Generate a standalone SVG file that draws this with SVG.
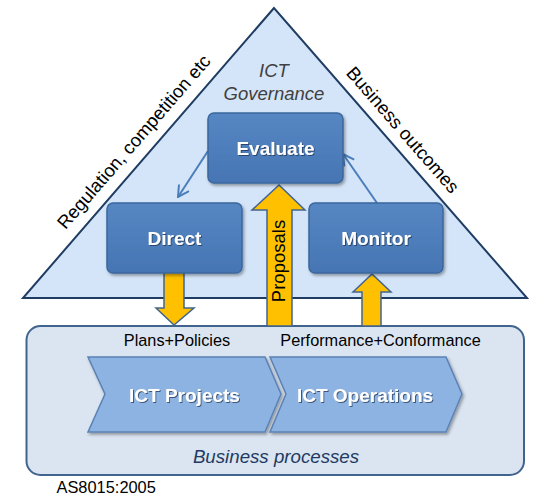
<svg xmlns="http://www.w3.org/2000/svg" width="550" height="504" viewBox="0 0 550 504">
<defs>
<style>
.t{font-family:"Liberation Sans",Arial,sans-serif;}
.box{fill:url(#bg);stroke:#3b679d;stroke-width:1.5;}
.bt{font-family:"Liberation Sans",Arial,sans-serif;font-weight:bold;font-size:19px;fill:#fff;text-anchor:middle;}
.chev{fill:#8db3e2;stroke:#5b82b5;stroke-width:1.5;}
.ya{fill:#ffc000;stroke:#41648f;stroke-width:1.5;stroke-linejoin:miter;}
.bl{stroke:#4a7ebb;stroke-width:2;fill:none;}
.lbl{font-family:"Liberation Sans",Arial,sans-serif;font-size:16.3px;fill:#000;text-anchor:middle;}
</style>
<linearGradient id="bg" x1="0" y1="0" x2="0" y2="1">
<stop offset="0" stop-color="#5687c3"/>
<stop offset="1" stop-color="#4675b3"/>
</linearGradient>
<filter id="sh" x="-10%" y="-10%" width="130%" height="140%">
<feDropShadow dx="1.5" dy="2" stdDeviation="1.5" flood-color="#000" flood-opacity="0.35"/>
</filter>
<filter id="ts" x="-5%" y="-20%" width="110%" height="150%">
<feDropShadow dx="1" dy="1" stdDeviation="0.6" flood-color="#1a2f4d" flood-opacity="0.7"/>
</filter>
<marker id="ah" viewBox="0 0 14 14" refX="12.5" refY="7" markerWidth="14" markerHeight="14" markerUnits="userSpaceOnUse" orient="auto">
<path d="M1.5,1 L12.5,7 L1.5,13" fill="none" stroke="#4a7ebb" stroke-width="2"/>
</marker>
</defs>
<rect width="550" height="504" fill="#fff"/>

<g id="governance">
<polygon points="274,8 23,298 527,298" fill="#d5e5f9" stroke="#1f3d63" stroke-width="2" stroke-linejoin="miter"/>
<text class="t" font-size="18.5" font-style="italic" fill="#404040" text-anchor="middle"><tspan x="274" y="77">ICT</tspan><tspan x="274" y="100">Governance</tspan></text>
<text class="t" font-size="18.5" fill="#000" text-anchor="middle" transform="translate(138.5,146) rotate(-49.1)">Regulation, competition etc</text>
<text class="t" font-size="18.5" fill="#000" text-anchor="middle" transform="translate(398,134) rotate(48.9)">Business outcomes</text>
</g>

<g id="business-processes">
<rect x="26.5" y="326" width="497.5" height="149" rx="14" fill="#dbe5f1" stroke="#41648f" stroke-width="2"/>
<text class="t" x="276" y="463" font-size="18.7" font-style="italic" fill="#1f3b63" text-anchor="middle">Business processes</text>
</g>

<g id="connectors">
<path class="ya" d="M164,272 L184,272 L184,308 L194,308 L174,325 L156,308 L164,308 Z"/>
<path class="ya" d="M267,326 L267,210 L252,210 L279,185 L305,210 L292,210 L292,326 Z"/>
<path class="ya" d="M362,326 L362,292 L353,292 L372,274 L391,292 L381,292 L381,326 Z"/>
<text class="t" font-size="18.5" fill="#000" text-anchor="middle" transform="translate(285,261) rotate(-90)">Proposals</text>
<line class="bl" x1="208" y1="151" x2="178" y2="197" marker-end="url(#ah)"/>
<line class="bl" x1="377" y1="203" x2="343" y2="154" marker-end="url(#ah)"/>
<text class="lbl" x="177" y="346">Plans+Policies</text>
<text class="lbl" x="380.5" y="346">Performance+Conformance</text>
</g>

<g id="evaluate">
<rect class="box" x="208" y="113" width="135" height="70" rx="6" filter="url(#sh)"/>
<text class="bt" x="275.5" y="155" filter="url(#ts)">Evaluate</text>
</g>
<g id="direct">
<rect class="box" x="107" y="203" width="135" height="70" rx="6" filter="url(#sh)"/>
<text class="bt" x="174.5" y="245" filter="url(#ts)">Direct</text>
</g>
<g id="monitor">
<rect class="box" x="309" y="203" width="134" height="70" rx="6" filter="url(#sh)"/>
<text class="bt" x="376" y="245" filter="url(#ts)">Monitor</text>
</g>

<g id="ict-projects">
<polygon class="chev" points="88,357 265,357 281,394 265,432 88,432 105,394" filter="url(#sh)"/>
<text class="bt" x="184.5" y="401.5" filter="url(#ts)">ICT Projects</text>
</g>
<g id="ict-operations">
<polygon class="chev" points="270,357 446,357 462,394 446,432 270,432 286,394" filter="url(#sh)"/>
<text class="bt" x="365" y="401.5" filter="url(#ts)">ICT Operations</text>
</g>

<text class="t" x="56.5" y="493" font-size="16.4" fill="#000">AS8015:2005</text>
</svg>
